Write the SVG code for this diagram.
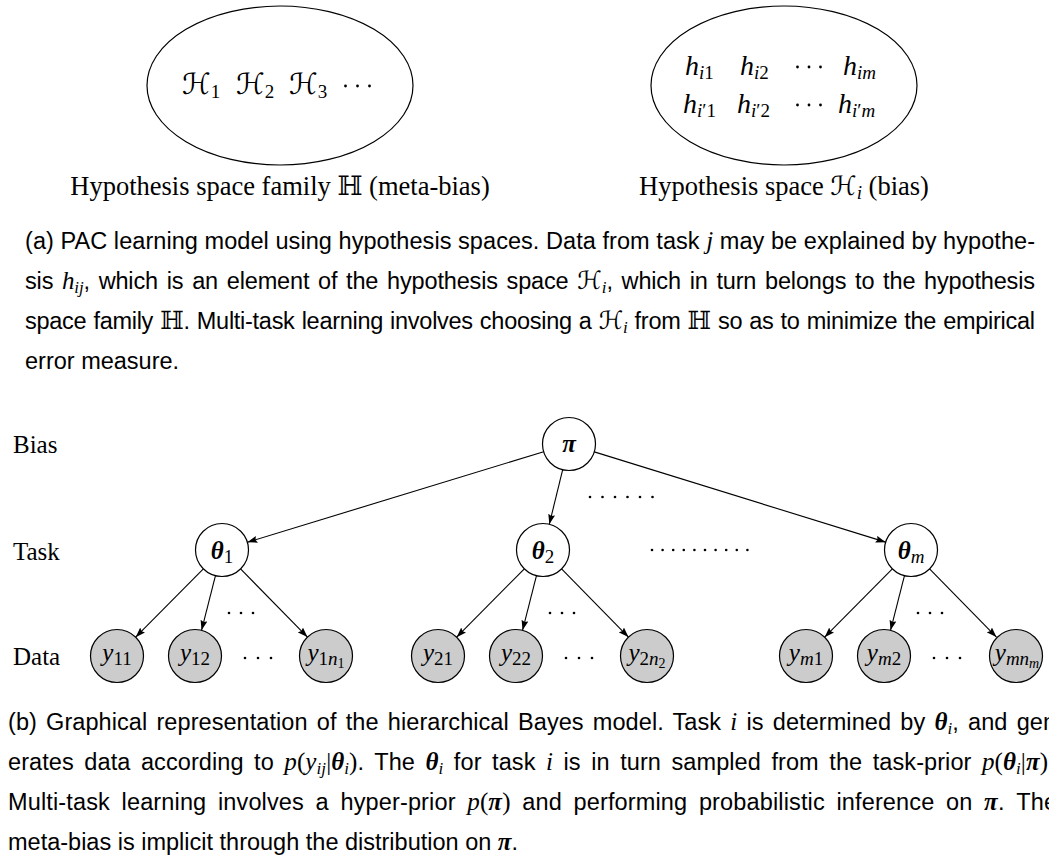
<svg xmlns="http://www.w3.org/2000/svg" width="1049" height="863" viewBox="0 0 1049 863">
<style>
  .bg { fill: #ffffff; }
  .ell { fill: none; stroke: #000; stroke-width: 1.2; }
  .nw { fill: #ffffff; stroke: #000; stroke-width: 1.2; }
  .ng { fill: #cccccc; stroke: #000; stroke-width: 1.2; }
  .edge { fill: none; stroke: #000; stroke-width: 1.1; marker-end: url(#arr); }
  .dot { fill: #000; }
  .rm { font-family: "Liberation Serif", "Times New Roman", serif; font-size: 26.5px; fill: #000; }
  .lbl { font-family: "Liberation Serif", "Times New Roman", serif; font-size: 25px; fill: #000; }
  .cap { font-family: "Liberation Sans", Arial, sans-serif; font-size: 23.5px; fill: #000; }
  .mi { font-family: "Liberation Serif", "Times New Roman", serif; font-style: italic; }
  .mr { font-family: "Liberation Serif", "Times New Roman", serif; font-style: normal; }
  .mb { font-family: "Liberation Serif", "Times New Roman", serif; font-style: italic; font-weight: bold; }
  .cal { font-family: "DejaVu Serif", "DejaVu Sans", serif; font-style: normal; }
  .bb { font-family: "DejaVu Serif", "DejaVu Sans", serif; font-style: normal; }
  .ma { font-size: 25px; }
  .sa { font-size: 17px; }
  .big { font-size: 29px; }
  .hh { font-size: 28px; }
  .s2 { font-size: 19px; }
  .s3 { font-size: 14px; }
</style>
<defs>
  <marker id="arr" markerUnits="userSpaceOnUse" markerWidth="10" markerHeight="8" refX="10" refY="3.5" orient="auto">
    <path d="M0,0 L10,3.5 L0,7 L1.5,3.5 z" fill="#000"/>
  </marker>
</defs>
<rect class="bg" x="0" y="0" width="1049" height="863"/>

<!-- (a) hypothesis spaces -->
<g id="hyp-family">
  <ellipse class="ell" cx="280" cy="85.5" rx="133" ry="79.5"/>
  <text class="rm" x="182" y="94"><tspan class="cal big">ℋ</tspan><tspan class="s2" dy="4">1</tspan></text>
  <text class="rm" x="236" y="94"><tspan class="cal big">ℋ</tspan><tspan class="s2" dy="4">2</tspan></text>
  <text class="rm" x="289" y="94"><tspan class="cal big">ℋ</tspan><tspan class="s2" dy="4">3</tspan></text>
  <circle class="dot" cx="345.5" cy="86" r="1.4"/>
  <circle class="dot" cx="357.5" cy="86" r="1.4"/>
  <circle class="dot" cx="369.5" cy="86" r="1.4"/>
  <text class="rm" x="280" y="195" text-anchor="middle">Hypothesis space family <tspan class="bb">ℍ</tspan> (meta-bias)</text>
</g>
<g id="hyp-space">
  <ellipse class="ell" cx="784" cy="85.5" rx="133" ry="79.5"/>
  <text class="rm" x="685" y="75"><tspan class="mi hh">h</tspan><tspan class="s2" dy="4"><tspan class="mi">i</tspan>1</tspan></text>
  <text class="rm" x="740" y="75"><tspan class="mi hh">h</tspan><tspan class="s2" dy="4"><tspan class="mi">i</tspan>2</tspan></text>
  <text class="rm" x="843" y="75"><tspan class="mi hh">h</tspan><tspan class="s2 mi" dy="4">im</tspan></text>
  <circle class="dot" cx="797.5" cy="67" r="1.4"/>
  <circle class="dot" cx="809" cy="67" r="1.4"/>
  <circle class="dot" cx="820.5" cy="67" r="1.4"/>
  <text class="rm" x="683" y="113"><tspan class="mi hh">h</tspan><tspan class="s2" dy="4"><tspan class="mi">i</tspan>′1</tspan></text>
  <text class="rm" x="737" y="113"><tspan class="mi hh">h</tspan><tspan class="s2" dy="4"><tspan class="mi">i</tspan>′2</tspan></text>
  <text class="rm" x="838" y="113"><tspan class="mi hh">h</tspan><tspan class="s2" dy="4"><tspan class="mi">i</tspan>′<tspan class="mi">m</tspan></tspan></text>
  <circle class="dot" cx="797.5" cy="105" r="1.4"/>
  <circle class="dot" cx="809" cy="105" r="1.4"/>
  <circle class="dot" cx="820.5" cy="105" r="1.4"/>
  <text class="rm" x="784" y="195" text-anchor="middle">Hypothesis space <tspan class="cal">ℋ</tspan><tspan class="s2 mi" dy="4">i</tspan><tspan dy="-4"> (bias)</tspan></text>
</g>

<!-- caption (a) -->
<g id="caption-a">
  <text class="cap" x="25" y="249" textLength="1010" lengthAdjust="spacing">(a) PAC learning model using hypothesis spaces. Data from task <tspan class="mi ma">j</tspan> may be explained by hypothe-</text>
  <text class="cap" x="25" y="289" textLength="1010" lengthAdjust="spacing" word-spacing="2.4">sis <tspan class="mi ma">h</tspan><tspan class="mi sa" dy="4">ij</tspan><tspan dy="-4">, which is an element of the hypothesis space </tspan><tspan class="cal ma">ℋ</tspan><tspan class="mi sa" dy="4">i</tspan><tspan dy="-4">, which in turn belongs to the hypothesis</tspan></text>
  <text class="cap" x="25" y="329" textLength="1010" lengthAdjust="spacing" word-spacing="0.8">space family <tspan class="bb ma">ℍ</tspan>. Multi-task learning involves choosing a <tspan class="cal ma">ℋ</tspan><tspan class="mi sa" dy="4">i</tspan><tspan dy="-4"> from </tspan><tspan class="bb ma">ℍ</tspan> so as to minimize the empirical</text>
  <text class="cap" x="25" y="369">error measure.</text>
</g>

<!-- (b) graphical model -->
<g id="row-labels">
  <text class="lbl" x="13" y="453">Bias</text>
  <text class="lbl" x="13" y="560">Task</text>
  <text class="lbl" x="13" y="665">Data</text>
</g>

<g id="connectors">
  <line class="edge" x1="543.65" y1="451.74" x2="247.35" y2="542.26"/>
  <line class="edge" x1="562.69" y1="469.74" x2="549.31" y2="524.26"/>
  <line class="edge" x1="594.31" y1="451.85" x2="885.69" y2="542.15"/>

  <line class="edge" x1="203.35" y1="568.83" x2="135.65" y2="637.17"/>
  <line class="edge" x1="215.46" y1="575.68" x2="201.54" y2="630.32"/>
  <line class="edge" x1="240.56" y1="568.92" x2="307.44" y2="637.08"/>

  <line class="edge" x1="524.35" y1="568.83" x2="456.65" y2="637.17"/>
  <line class="edge" x1="536.46" y1="575.68" x2="522.54" y2="630.32"/>
  <line class="edge" x1="561.56" y1="568.92" x2="628.44" y2="637.08"/>

  <line class="edge" x1="892.35" y1="568.83" x2="824.65" y2="637.17"/>
  <line class="edge" x1="904.46" y1="575.68" x2="890.54" y2="630.32"/>
  <line class="edge" x1="929.56" y1="568.92" x2="996.44" y2="637.08"/>
</g>

<g id="ellipsis-dots">
  <circle class="dot" cx="590" cy="497" r="1.3"/>
  <circle class="dot" cx="602.5" cy="497" r="1.3"/>
  <circle class="dot" cx="615" cy="497" r="1.3"/>
  <circle class="dot" cx="627.5" cy="497" r="1.3"/>
  <circle class="dot" cx="640" cy="497" r="1.3"/>
  <circle class="dot" cx="652.5" cy="497" r="1.3"/>

  <circle class="dot" cx="652" cy="550" r="1.3"/>
  <circle class="dot" cx="662.6" cy="550" r="1.3"/>
  <circle class="dot" cx="673.2" cy="550" r="1.3"/>
  <circle class="dot" cx="683.8" cy="550" r="1.3"/>
  <circle class="dot" cx="694.4" cy="550" r="1.3"/>
  <circle class="dot" cx="705" cy="550" r="1.3"/>
  <circle class="dot" cx="715.6" cy="550" r="1.3"/>
  <circle class="dot" cx="726.2" cy="550" r="1.3"/>
  <circle class="dot" cx="736.8" cy="550" r="1.3"/>
  <circle class="dot" cx="747.4" cy="550" r="1.3"/>

  <circle class="dot" cx="229" cy="613" r="1.3"/>
  <circle class="dot" cx="241" cy="613" r="1.3"/>
  <circle class="dot" cx="253" cy="613" r="1.3"/>
  <circle class="dot" cx="245" cy="658" r="1.3"/>
  <circle class="dot" cx="258" cy="658" r="1.3"/>
  <circle class="dot" cx="271" cy="658" r="1.3"/>

  <circle class="dot" cx="550" cy="613" r="1.3"/>
  <circle class="dot" cx="562" cy="613" r="1.3"/>
  <circle class="dot" cx="574" cy="613" r="1.3"/>
  <circle class="dot" cx="566" cy="658" r="1.3"/>
  <circle class="dot" cx="579" cy="658" r="1.3"/>
  <circle class="dot" cx="592" cy="658" r="1.3"/>

  <circle class="dot" cx="918" cy="613" r="1.3"/>
  <circle class="dot" cx="930" cy="613" r="1.3"/>
  <circle class="dot" cx="942" cy="613" r="1.3"/>
  <circle class="dot" cx="934" cy="658" r="1.3"/>
  <circle class="dot" cx="947" cy="658" r="1.3"/>
  <circle class="dot" cx="960" cy="658" r="1.3"/>
</g>

<g id="node-pi">
  <circle class="nw" cx="569" cy="444" r="26.5"/>
  <text class="lbl" x="569" y="452" text-anchor="middle"><tspan class="mb">π</tspan></text>
</g>
<g id="node-theta1">
  <circle class="nw" cx="222" cy="550" r="26.5"/>
  <text class="lbl" x="222" y="559" text-anchor="middle"><tspan class="mb">θ</tspan><tspan class="s2 mr" dy="4">1</tspan></text>
</g>
<g id="node-theta2">
  <circle class="nw" cx="543" cy="550" r="26.5"/>
  <text class="lbl" x="543" y="559" text-anchor="middle"><tspan class="mb">θ</tspan><tspan class="s2 mr" dy="4">2</tspan></text>
</g>
<g id="node-thetam">
  <circle class="nw" cx="911" cy="550" r="26.5"/>
  <text class="lbl" x="911" y="559" text-anchor="middle"><tspan class="mb">θ</tspan><tspan class="s2 mi" dy="4">m</tspan></text>
</g>

<g id="node-y11">
  <circle class="ng" cx="117" cy="656" r="26.5"/>
  <text class="lbl" x="117" y="661" text-anchor="middle"><tspan class="mi">y</tspan><tspan class="s2 mr" dy="4">11</tspan></text>
</g>
<g id="node-y12">
  <circle class="ng" cx="195" cy="656" r="26.5"/>
  <text class="lbl" x="195" y="661" text-anchor="middle"><tspan class="mi">y</tspan><tspan class="s2 mr" dy="4">12</tspan></text>
</g>
<g id="node-y1n1">
  <circle class="ng" cx="326" cy="656" r="26.5"/>
  <text class="lbl" x="326" y="661" text-anchor="middle"><tspan class="mi">y</tspan><tspan class="s2 mr" dy="4">1</tspan><tspan class="s2 mi">n</tspan><tspan class="s3 mr" dy="3">1</tspan></text>
</g>
<g id="node-y21">
  <circle class="ng" cx="438" cy="656" r="26.5"/>
  <text class="lbl" x="438" y="661" text-anchor="middle"><tspan class="mi">y</tspan><tspan class="s2 mr" dy="4">21</tspan></text>
</g>
<g id="node-y22">
  <circle class="ng" cx="516" cy="656" r="26.5"/>
  <text class="lbl" x="516" y="661" text-anchor="middle"><tspan class="mi">y</tspan><tspan class="s2 mr" dy="4">22</tspan></text>
</g>
<g id="node-y2n2">
  <circle class="ng" cx="647" cy="656" r="26.5"/>
  <text class="lbl" x="647" y="661" text-anchor="middle"><tspan class="mi">y</tspan><tspan class="s2 mr" dy="4">2</tspan><tspan class="s2 mi">n</tspan><tspan class="s3 mr" dy="3">2</tspan></text>
</g>
<g id="node-ym1">
  <circle class="ng" cx="806" cy="656" r="26.5"/>
  <text class="lbl" x="806" y="661" text-anchor="middle"><tspan class="mi">y</tspan><tspan class="s2 mi" dy="4">m</tspan><tspan class="s2 mr">1</tspan></text>
</g>
<g id="node-ym2">
  <circle class="ng" cx="884" cy="656" r="26.5"/>
  <text class="lbl" x="884" y="661" text-anchor="middle"><tspan class="mi">y</tspan><tspan class="s2 mi" dy="4">m</tspan><tspan class="s2 mr">2</tspan></text>
</g>
<g id="node-ymnm">
  <circle class="ng" cx="1016" cy="656" r="26.5"/>
  <text class="lbl" x="1017" y="661" text-anchor="middle"><tspan class="mi">y</tspan><tspan class="s2 mi" dy="4">mn</tspan><tspan class="s3 mi" dy="3">m</tspan></text>
</g>

<!-- caption (b) -->
<g id="caption-b">
  <text class="cap" x="8" y="730" textLength="1048" lengthAdjust="spacing" word-spacing="2.6">(b) Graphical representation of the hierarchical Bayes model. Task <tspan class="mi ma">i</tspan> is determined by <tspan class="mb ma">θ</tspan><tspan class="mi sa" dy="4">i</tspan><tspan dy="-4">, and gen</tspan></text>
  <text class="cap" x="8" y="770" textLength="1040" lengthAdjust="spacing" word-spacing="3.9">erates data according to <tspan class="mi ma">p</tspan><tspan class="mr ma">(</tspan><tspan class="mi ma">y</tspan><tspan class="mi sa" dy="4">ij</tspan><tspan class="mr ma" dy="-4">|</tspan><tspan class="mb ma">θ</tspan><tspan class="mi sa" dy="4">i</tspan><tspan class="mr ma" dy="-4">)</tspan>. The <tspan class="mb ma">θ</tspan><tspan class="mi sa" dy="4">i</tspan><tspan dy="-4"> for task </tspan><tspan class="mi ma">i</tspan> is in turn sampled from the task-prior <tspan class="mi ma">p</tspan><tspan class="mr ma">(</tspan><tspan class="mb ma">θ</tspan><tspan class="mi sa" dy="4">i</tspan><tspan class="mr ma" dy="-4">|</tspan><tspan class="mb ma">π</tspan><tspan class="mr ma">)</tspan></text>
  <text class="cap" x="8" y="810" textLength="1049" lengthAdjust="spacing" word-spacing="5">Multi-task learning involves a hyper-prior <tspan class="mi ma">p</tspan><tspan class="mr ma">(</tspan><tspan class="mb ma">π</tspan><tspan class="mr ma">)</tspan> and performing probabilistic inference on <tspan class="mb ma">π</tspan>. The</text>
  <text class="cap" x="8" y="850">meta-bias is implicit through the distribution on <tspan class="mb ma">π</tspan>.</text>
</g>
</svg>
